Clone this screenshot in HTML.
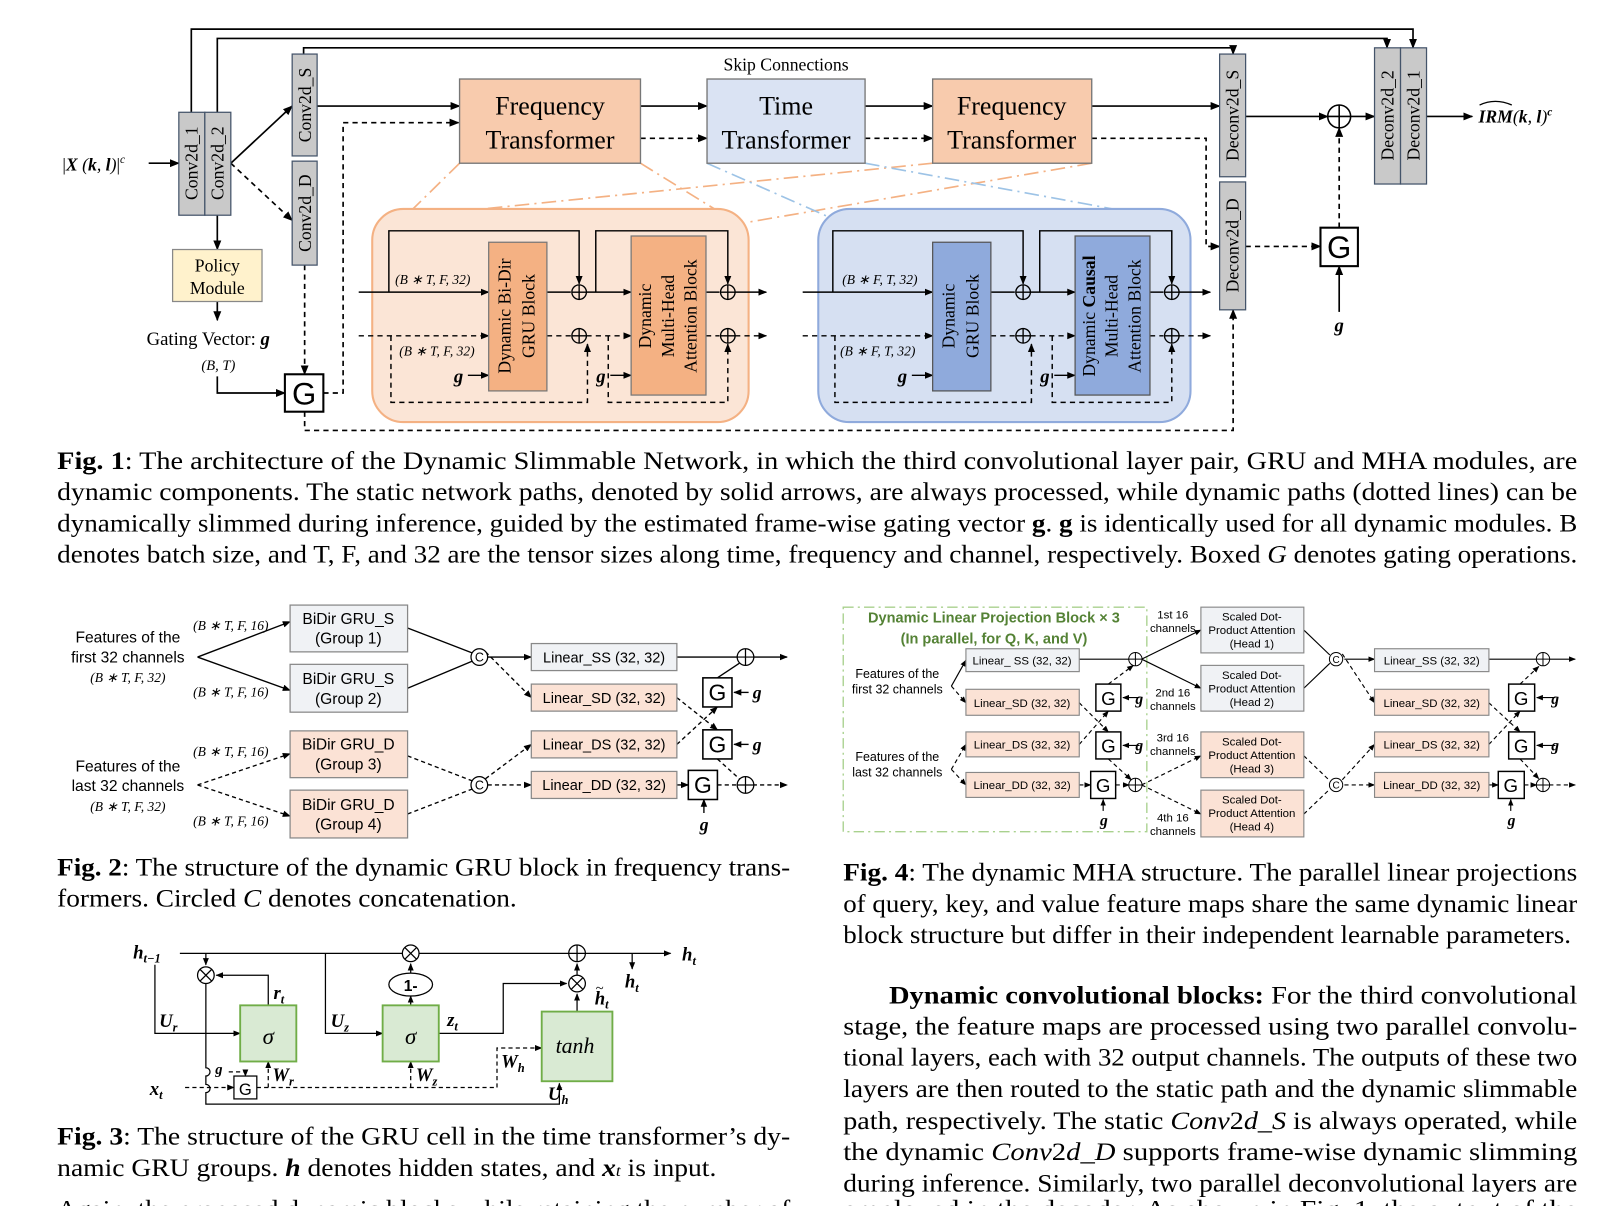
<!DOCTYPE html>
<html><head><meta charset="utf-8"><style>
html,body{margin:0;padding:0;background:#fff;}
svg{display:block;}
.s{font-family:"Liberation Serif",serif;}
.a{font-family:"Liberation Sans",sans-serif;}
</style></head><body>
<svg width="1622" height="1206" viewBox="0 0 1560 1160" preserveAspectRatio="none" xmlns="http://www.w3.org/2000/svg">
<defs>
<marker id="ar" viewBox="0 0 10 10" refX="9" refY="5" markerWidth="6" markerHeight="6" orient="auto-start-reverse"><path d="M0,1 L10,5 L0,9 z" fill="#000"/></marker>
<g id="pl"><circle r="7" fill="none" stroke="#000" stroke-width="1.3"/><path d="M-7,0H7M0,-7V7" stroke="#000" stroke-width="1.3"/></g>
<g id="pb"><circle r="11" fill="#fff" stroke="#000" stroke-width="1.5"/><path d="M-11,0H11M0,-11V11" stroke="#000" stroke-width="1.5"/></g>
<g id="cc"><circle r="8" fill="#fff" stroke="#000" stroke-width="1.2"/><text y="4.5" text-anchor="middle" font-family="Liberation Sans,sans-serif" font-size="12">C</text></g>
<g id="ml"><circle r="8" fill="#fff" stroke="#000" stroke-width="1.2"/><path d="M-5.6,-5.6L5.6,5.6M5.6,-5.6L-5.6,5.6" stroke="#000" stroke-width="1.2"/></g>
<g id="pm"><circle r="8" fill="#fff" stroke="#000" stroke-width="1.2"/><path d="M-8,0H8M0,-8V8" stroke="#000" stroke-width="1.2"/></g>
</defs>

<!-- ============ FIG 1 ============ -->
<g fill="none" stroke="#000" stroke-width="1.6">
<path d="M184,108V28H1359V46" marker-end="url(#ar)"/>
<path d="M209,108V37H1334V46" marker-end="url(#ar)"/>
<path d="M292,52V46H1186V52" marker-end="url(#ar)"/>
<path d="M143,157H172" marker-end="url(#ar)"/>
<path d="M222,157L281,102" marker-end="url(#ar)"/>
<path d="M222,157L281,212" stroke-dasharray="5,4" marker-end="url(#ar)"/>
<path d="M209,207V240" marker-end="url(#ar)"/>
<path d="M209,290V308" marker-end="url(#ar)"/>
<path d="M209,362V378H274" marker-end="url(#ar)"/>
<path d="M293,255V360" stroke-dasharray="5,4" marker-end="url(#ar)"/>
<path d="M311,378H330V118H441" stroke-dasharray="5,4" marker-end="url(#ar)"/>
<path d="M293,396V414H1186V298" stroke-dasharray="5,4" marker-end="url(#ar)"/>
<path d="M305,102H442" marker-end="url(#ar)"/>
<path d="M616,102H680" marker-end="url(#ar)"/>
<path d="M832,102H897" marker-end="url(#ar)"/>
<path d="M1050,102H1173" marker-end="url(#ar)"/>
<path d="M616,133H680" stroke-dasharray="5,4" marker-end="url(#ar)"/>
<path d="M832,133H897" stroke-dasharray="5,4" marker-end="url(#ar)"/>
<path d="M1050,133H1160V237H1173" stroke-dasharray="5,4" marker-end="url(#ar)"/>
<path d="M1198,112H1277" marker-end="url(#ar)"/>
<path d="M1299,112H1322" marker-end="url(#ar)"/>
<path d="M1372,112H1416" marker-end="url(#ar)"/>
<path d="M1198,237H1270" stroke-dasharray="5,4" marker-end="url(#ar)"/>
<path d="M1288,219V123" stroke-dasharray="5,4" marker-end="url(#ar)"/>
<path d="M1288,300V256" marker-end="url(#ar)"/>
</g>
<g fill="none" stroke-width="1.6" stroke-dasharray="14,5,2,5">
<path d="M442,157L390,208" stroke="#f4b183"/>
<path d="M616,157L705,212" stroke="#f4b183"/>
<path d="M897,157L395,208" stroke="#f4b183"/>
<path d="M1050,157L718,214" stroke="#f4b183"/>
<path d="M680,157L800,210" stroke="#9dc3e6"/>
<path d="M832,157L1130,212" stroke="#9dc3e6"/>
</g>
<g stroke="#44546a" stroke-width="1.2" fill="#c9c9c9">
<rect x="172" y="108" width="25" height="99"/><rect x="197" y="108" width="25" height="99"/>
<rect x="281" y="52" width="24" height="98"/><rect x="281" y="155" width="24" height="100"/>
<rect x="1173" y="52" width="25" height="118"/><rect x="1173" y="175" width="25" height="123"/>
<rect x="1322" y="46" width="25" height="131"/><rect x="1347" y="46" width="25" height="131"/>
</g>
<g class="s" font-size="17" text-anchor="middle">
<text transform="translate(190,157) rotate(-90)">Conv2d_1</text>
<text transform="translate(215,157) rotate(-90)">Conv2d_2</text>
<text transform="translate(299,101) rotate(-90)">Conv2d_S</text>
<text transform="translate(299,205) rotate(-90)">Conv2d_D</text>
<text transform="translate(1191,111) rotate(-90)">Deconv2d_S</text>
<text transform="translate(1191,236) rotate(-90)">Deconv2d_D</text>
<text transform="translate(1340,111) rotate(-90)">Deconv2d_2</text>
<text transform="translate(1365,111) rotate(-90)">Deconv2d_1</text>
</g>
<text x="60" y="164" class="s" font-size="17" font-style="italic"><tspan font-style="normal">|</tspan><tspan font-weight="bold">X</tspan> (<tspan font-weight="bold">k</tspan>, <tspan font-weight="bold">l</tspan>)<tspan font-style="normal">|</tspan><tspan font-size="11" dy="-7">c</tspan></text>
<rect x="166" y="240" width="86" height="50" fill="#fff2cc" stroke="#888" stroke-width="1.2"/>
<text x="209" y="261" class="s" font-size="17" text-anchor="middle">Policy</text>
<text x="209" y="283" class="s" font-size="17" text-anchor="middle">Module</text>
<text x="141" y="332" class="s" font-size="18">Gating Vector: <tspan font-weight="bold" font-style="italic">g</tspan></text>
<text x="210" y="356" class="s" font-size="14" font-style="italic" text-anchor="middle">(B, T)</text>
<rect x="274" y="360" width="37" height="36" fill="#fff" stroke="#000" stroke-width="2"/>
<text x="292.5" y="389" class="a" font-size="30" text-anchor="middle">G</text>
<rect x="1270" y="219" width="36" height="37" fill="#fff" stroke="#000" stroke-width="2"/>
<text x="1288" y="248" class="a" font-size="30" text-anchor="middle">G</text>
<text x="1288" y="319" class="s" font-size="18" font-weight="bold" font-style="italic" text-anchor="middle">g</text>
<use href="#pb" x="1288" y="112"/>
<text x="1422" y="118" class="s" font-size="17" font-style="italic" font-weight="bold">IRM<tspan font-weight="normal">(</tspan>k<tspan font-weight="normal">, </tspan>l<tspan font-weight="normal">)</tspan><tspan font-size="11" dy="-7">c</tspan></text>
<path d="M1423,101Q1438,94 1454,101" fill="none" stroke="#000" stroke-width="1.2"/>
<text x="756" y="68" class="s" font-size="17" text-anchor="middle">Skip Connections</text>
<rect x="442" y="76" width="174" height="81" fill="#f8cbad" stroke="#777" stroke-width="1.3"/>
<rect x="680" y="76" width="152" height="81" fill="#dae3f3" stroke="#777" stroke-width="1.3"/>
<rect x="897" y="76" width="153" height="81" fill="#f8cbad" stroke="#777" stroke-width="1.3"/>
<g class="s" font-size="25" text-anchor="middle">
<text x="529" y="110">Frequency</text><text x="529" y="143">Transformer</text>
<text x="756" y="110">Time</text><text x="756" y="143">Transformer</text>
<text x="973" y="110">Frequency</text><text x="973" y="143">Transformer</text>
</g>
<rect x="358" y="201" width="362" height="205" rx="30" fill="#fbe5d6" stroke="#f4b183" stroke-width="2"/>
<rect x="787" y="201" width="358" height="205" rx="30" fill="#d6e0f2" stroke="#8faadc" stroke-width="2"/>
<g id="blk">
<g fill="none" stroke="#000" stroke-width="1.4">
<path d="M345,281H470" marker-end="url(#ar)"/>
<path d="M374,281V222H557V273" marker-end="url(#ar)"/>
<path d="M526,281H549"/><path d="M564,281H607" marker-end="url(#ar)"/>
<path d="M573,281V222H700V273" marker-end="url(#ar)"/>
<path d="M679,281H692"/><path d="M707,281H737" marker-end="url(#ar)"/>
<g stroke-dasharray="5,4">
<path d="M345,323H470" marker-end="url(#ar)"/>
<path d="M376,323V387H565V331" marker-end="url(#ar)"/>
<path d="M526,323H549"/><path d="M564,323H607" marker-end="url(#ar)"/>
<path d="M585,323V387H700V331" marker-end="url(#ar)"/>
<path d="M679,323H692"/><path d="M707,323H737" marker-end="url(#ar)"/>
</g>
<path d="M450,361H470" marker-end="url(#ar)"/>
<path d="M587,361H607" marker-end="url(#ar)"/>
</g>
<use href="#pl" x="557" y="281"/><use href="#pl" x="700" y="281"/>
<use href="#pl" x="557" y="323"/><use href="#pl" x="700" y="323"/>
<text x="441" y="368" class="s" font-size="18" font-weight="bold" font-style="italic" text-anchor="middle">g</text>
<text x="578" y="368" class="s" font-size="18" font-weight="bold" font-style="italic" text-anchor="middle">g</text>
</g>
<g class="s" font-size="13" font-style="italic">
<text x="380" y="273">(B ∗ T, F, 32)</text><text x="384" y="342">(B ∗ T, F, 32)</text>
</g>
<rect x="470" y="233" width="56" height="143" fill="#f4b183" stroke="#777" stroke-width="1.2"/>
<rect x="607" y="227" width="72" height="153" fill="#f4b183" stroke="#777" stroke-width="1.2"/>
<g class="s" font-size="17" text-anchor="middle">
<text transform="translate(491,304) rotate(-90)">Dynamic Bi-Dir</text>
<text transform="translate(514,304) rotate(-90)">GRU Block</text>
<text transform="translate(626,304) rotate(-90)">Dynamic</text>
<text transform="translate(648,304) rotate(-90)">Multi-Head</text>
<text transform="translate(670,304) rotate(-90)">Attention Block</text>
</g>
<use href="#blk" transform="translate(427,0)"/>
<g class="s" font-size="13" font-style="italic">
<text x="810" y="273">(B ∗ F, T, 32)</text><text x="808" y="342">(B ∗ F, T, 32)</text>
</g>
<rect x="897" y="233" width="56" height="143" fill="#8faadc" stroke="#555" stroke-width="1.2"/>
<rect x="1034" y="227" width="72" height="153" fill="#8faadc" stroke="#555" stroke-width="1.2"/>
<g class="s" font-size="17" text-anchor="middle">
<text transform="translate(918,304) rotate(-90)">Dynamic</text>
<text transform="translate(941,304) rotate(-90)">GRU Block</text>
<text transform="translate(1053,304) rotate(-90)">Dynamic <tspan font-weight="bold">Causal</tspan></text>
<text transform="translate(1075,304) rotate(-90)">Multi-Head</text>
<text transform="translate(1097,304) rotate(-90)">Attention Block</text>
</g>

<g class="s" font-size="24">
<text x="55" y="451" textLength="1462" lengthAdjust="spacingAndGlyphs"><tspan font-weight="bold">Fig. 1</tspan>: The architecture of the Dynamic Slimmable Network, in which the third convolutional layer pair, GRU and MHA modules, are</text>
<text x="55" y="481" textLength="1462" lengthAdjust="spacingAndGlyphs">dynamic components. The static network paths, denoted by solid arrows, are always processed, while dynamic paths (dotted lines) can be</text>
<text x="55" y="511" textLength="1462" lengthAdjust="spacingAndGlyphs">dynamically slimmed during inference, guided by the estimated frame-wise gating vector <tspan font-weight="bold">g</tspan>. <tspan font-weight="bold">g</tspan> is identically used for all dynamic modules. B</text>
<text x="55" y="541" textLength="1462" lengthAdjust="spacingAndGlyphs">denotes batch size, and T, F, and 32 are the tensor sizes along time, frequency and channel, respectively. Boxed <tspan font-style="italic">G</tspan> denotes gating operations.</text>
</g>

<!-- ============ FIG 2 ============ -->
<g class="a" font-size="15" text-anchor="middle">
<text x="123" y="618">Features of the</text><text x="123" y="637">first 32 channels</text>
<text x="123" y="742">Features of the</text><text x="123" y="761">last 32 channels</text>
</g>
<g class="s" font-size="13" font-style="italic" text-anchor="middle">
<text x="123" y="656">(B ∗ T, F, 32)</text><text x="123" y="780">(B ∗ T, F, 32)</text>
<text x="222" y="606">(B ∗ T, F, 16)</text><text x="222" y="670">(B ∗ T, F, 16)</text>
<text x="222" y="727">(B ∗ T, F, 16)</text><text x="222" y="794">(B ∗ T, F, 16)</text>
</g>
<g fill="none" stroke="#000" stroke-width="1.3">
<path d="M190,632L279,598" marker-end="url(#ar)"/><path d="M190,632L279,664" marker-end="url(#ar)"/>
<path d="M392,604L454,628"/><path d="M392,662L454,636"/>
<path d="M469,632H511" marker-end="url(#ar)"/>
<path d="M651,632H710"/><path d="M724,632H757" marker-end="url(#ar)"/>
<path d="M690,652L711,638" />
<path d="M720,666H706" marker-end="url(#ar)"/>
<path d="M720,716H706" marker-end="url(#ar)"/>
<path d="M677,782V769" marker-end="url(#ar)"/>
<g stroke-dasharray="4,3">
<path d="M190,755L279,725" marker-end="url(#ar)"/><path d="M190,755L279,785" marker-end="url(#ar)"/>
<path d="M392,727L454,751"/><path d="M392,783L454,759"/>
<path d="M467,627L511,671" marker-end="url(#ar)"/>
<path d="M467,749L511,716" marker-end="url(#ar)"/>
<path d="M469,755H511" marker-end="url(#ar)"/>
<path d="M651,755H662" marker-end="url(#ar)"/>
<path d="M690,755H710"/><path d="M724,755H757" marker-end="url(#ar)"/>
<path d="M651,671L690,702" marker-end="url(#ar)"/>
<path d="M651,716L690,680" marker-end="url(#ar)"/>
<path d="M690,730L712,750"/>
</g>
</g>
<g stroke="#888" stroke-width="1.2">
<rect x="279" y="582" width="113" height="45" fill="#f0f2f5"/><rect x="279" y="639" width="113" height="46" fill="#f0f2f5"/>
<rect x="279" y="703" width="113" height="45" fill="#fbe2d5"/><rect x="279" y="760" width="113" height="46" fill="#fbe2d5"/>
<rect x="511" y="619" width="140" height="26" fill="#f0f2f5"/><rect x="511" y="658" width="140" height="26" fill="#fbe2d5"/>
<rect x="511" y="703" width="140" height="26" fill="#fbe2d5"/><rect x="511" y="742" width="140" height="26" fill="#fbe2d5"/>
</g>
<g class="a" font-size="15" text-anchor="middle">
<text x="335" y="600">BiDir GRU_S</text><text x="335" y="619">(Group 1)</text>
<text x="335" y="658">BiDir GRU_S</text><text x="335" y="677">(Group 2)</text>
<text x="335" y="721">BiDir GRU_D</text><text x="335" y="740">(Group 3)</text>
<text x="335" y="779">BiDir GRU_D</text><text x="335" y="798">(Group 4)</text>
</g>
<g class="a" font-size="14" text-anchor="middle">
<text x="581" y="637">Linear_SS (32, 32)</text><text x="581" y="676">Linear_SD (32, 32)</text>
<text x="581" y="721">Linear_DS (32, 32)</text><text x="581" y="760">Linear_DD (32, 32)</text>
</g>
<use href="#cc" x="461" y="632"/><use href="#cc" x="461" y="755"/>
<use href="#pm" x="717" y="632"/><use href="#pm" x="717" y="755"/>
<g fill="#fff" stroke="#000" stroke-width="1.5">
<rect x="676" y="652" width="28" height="28"/><rect x="676" y="702" width="28" height="28"/><rect x="662" y="741" width="28" height="28"/>
</g>
<g class="a" font-size="22" text-anchor="middle"><text x="690" y="674">G</text><text x="690" y="724">G</text><text x="676" y="763">G</text></g>
<g class="s" font-size="17" font-weight="bold" font-style="italic"><text x="724" y="672">g</text><text x="724" y="722">g</text><text x="673" y="799">g</text></g>
<g class="s" font-size="24">
<text x="55" y="842" textLength="705" lengthAdjust="spacingAndGlyphs"><tspan font-weight="bold">Fig. 2</tspan>: The structure of the dynamic GRU block in frequency trans-</text>
<text x="55" y="872" textLength="442" lengthAdjust="spacingAndGlyphs">formers. Circled <tspan font-style="italic">C</tspan> denotes concatenation.</text>
</g>

<!-- ============ FIG 3 ============ -->
<g fill="none" stroke="#000" stroke-width="1.2">
<path d="M173,917H645" marker-end="url(#ar)"/>
<path d="M608,917V932" marker-end="url(#ar)"/>
<path d="M198,917V928" marker-end="url(#ar)"/>
<path d="M258,967V938H208" marker-end="url(#ar)"/>
<path d="M198,946V1027a4,4 0 0 1 0,8V1043a4,4 0 0 1 0,8V1062H538V1042" marker-end="url(#ar)"/>
<path d="M149,928V994H231" marker-end="url(#ar)"/>
<path d="M313,917V994H368" marker-end="url(#ar)"/>
<path d="M395,967V958" marker-end="url(#ar)"/>
<path d="M395,937V927" marker-end="url(#ar)"/>
<path d="M422,994H484V946H545" marker-end="url(#ar)"/>
<path d="M555,938V927" marker-end="url(#ar)"/>
<path d="M555,973V956" marker-end="url(#ar)"/>
<g stroke-dasharray="4,3">
<path d="M178,1046H225" marker-end="url(#ar)"/>
<path d="M220,1031H236V1035" marker-end="url(#ar)"/>
<path d="M247,1046H478V1008H521" marker-end="url(#ar)"/>
<path d="M258,1046V1021" marker-end="url(#ar)"/>
<path d="M395,1046V1021" marker-end="url(#ar)"/>
</g>
</g>
<use href="#ml" x="198" y="938"/><use href="#ml" x="395" y="917"/><use href="#pm" x="555" y="917"/><use href="#ml" x="555" y="946"/>
<ellipse cx="395" cy="947" rx="21" ry="11" fill="#fff" stroke="#000" stroke-width="1.2"/>
<text x="395" y="953" class="a" font-size="15" font-weight="bold" text-anchor="middle">1-</text>
<g fill="#d9ead3" stroke="#70ad47" stroke-width="1.8">
<rect x="231" y="967" width="54" height="54"/><rect x="368" y="967" width="54" height="54"/><rect x="521" y="973" width="68" height="67"/>
</g>
<g class="s" font-style="italic" text-anchor="middle">
<text x="258" y="1004" font-size="22">σ</text><text x="395" y="1004" font-size="22">σ</text><text x="553" y="1013" font-size="21">tanh</text>
</g>
<rect x="225" y="1035" width="22" height="22" fill="#fff" stroke="#000" stroke-width="1.2"/>
<text x="236" y="1053" class="a" font-size="16" text-anchor="middle">G</text>
<g class="s" font-size="18" font-weight="bold" font-style="italic">
<text x="128" y="922">h<tspan font-size="12" dy="4">t−1</tspan></text>
<text x="656" y="924">h<tspan font-size="12" dy="4">t</tspan></text>
<text x="601" y="950">h<tspan font-size="12" dy="4">t</tspan></text>
<text x="572" y="966">h<tspan font-size="12" dy="4">t</tspan></text>
<text x="263" y="961">r<tspan font-size="12" dy="4">t</tspan></text>
<text x="153" y="988">U<tspan font-size="12" dy="4">r</tspan></text>
<text x="318" y="988">U<tspan font-size="12" dy="4">z</tspan></text>
<text x="430" y="987">z<tspan font-size="12" dy="4">t</tspan></text>
<text x="262" y="1040">W<tspan font-size="12" dy="4">r</tspan></text>
<text x="400" y="1040">W<tspan font-size="12" dy="4">z</tspan></text>
<text x="482" y="1027">W<tspan font-size="12" dy="4">h</tspan></text>
<text x="527" y="1058">U<tspan font-size="12" dy="4">h</tspan></text>
<text x="144" y="1053">x<tspan font-size="12" dy="4">t</tspan></text>
<text x="207" y="1033" font-size="14">g</text>
</g>
<text x="573" y="955" class="s" font-size="14">~</text>
<g class="s" font-size="24">
<text x="55" y="1101" textLength="705" lengthAdjust="spacingAndGlyphs"><tspan font-weight="bold">Fig. 3</tspan>: The structure of the GRU cell in the time transformer’s dy-</text>
<text x="55" y="1131" textLength="634" lengthAdjust="spacingAndGlyphs">namic GRU groups. <tspan font-weight="bold" font-style="italic">h</tspan> denotes hidden states, and <tspan font-weight="bold" font-style="italic">x</tspan><tspan font-style="italic" font-size="15">t</tspan> is input.</text>
<text x="55" y="1171" textLength="705" lengthAdjust="spacingAndGlyphs">Again, the proposed dynamic blocks while retaining the number of</text>
</g>

<!-- ============ FIG 4 ============ -->
<rect x="811" y="584" width="292" height="216" fill="none" stroke="#a9d18e" stroke-width="1.3" stroke-dasharray="10,4,2,4"/>
<g class="a" font-size="14" font-weight="bold" fill="#548235" text-anchor="middle">
<text x="956" y="599">Dynamic Linear Projection Block × 3</text>
<text x="956" y="619">(In parallel, for Q, K, and V)</text>
</g>
<g class="a" font-size="12" text-anchor="middle">
<text x="863" y="652">Features of the</text><text x="863" y="667">first 32 channels</text>
<text x="863" y="732">Features of the</text><text x="863" y="747">last 32 channels</text>
</g>
<g class="a" font-size="11" text-anchor="middle">
<text x="1128" y="595">1st 16</text><text x="1128" y="608">channels</text>
<text x="1128" y="670">2nd 16</text><text x="1128" y="683">channels</text>
<text x="1128" y="713">3rd 16</text><text x="1128" y="726">channels</text>
<text x="1128" y="790">4th 16</text><text x="1128" y="803">channels</text>
</g>
<g fill="none" stroke="#000" stroke-width="1.1">
<path d="M915,660L929,635" marker-end="url(#ar)"/>
<path d="M1038,634H1086"/><path d="M1098,634L1155,606" marker-end="url(#ar)"/><path d="M1098,634L1155,662" marker-end="url(#ar)"/>
<path d="M1254,606L1279,630"/><path d="M1254,662L1279,638"/>
<path d="M1293,634H1322" marker-end="url(#ar)"/>
<path d="M1432,634H1478"/><path d="M1490,634H1515" marker-end="url(#ar)"/>
<path d="M1096,671H1080" marker-end="url(#ar)"/><path d="M1096,717H1080" marker-end="url(#ar)"/>
<path d="M1061,780V769" marker-end="url(#ar)"/>
<path d="M1496,671H1478" marker-end="url(#ar)"/><path d="M1496,717H1478" marker-end="url(#ar)"/>
<path d="M1453,780V769" marker-end="url(#ar)"/>
<g stroke-dasharray="4,3">
<path d="M915,660L929,676" marker-end="url(#ar)"/>
<path d="M915,740L929,716" marker-end="url(#ar)"/><path d="M915,740L929,755" marker-end="url(#ar)"/>
<path d="M1038,676L1066,704" marker-end="url(#ar)"/>
<path d="M1038,716L1066,684" marker-end="url(#ar)"/>
<path d="M1066,658L1090,640" marker-end="url(#ar)"/>
<path d="M1066,730L1088,750" marker-end="url(#ar)"/>
<path d="M1038,755H1049" marker-end="url(#ar)"/><path d="M1073,755H1086" marker-end="url(#ar)"/>
<path d="M1098,755L1155,727" marker-end="url(#ar)"/><path d="M1098,755L1155,783" marker-end="url(#ar)"/>
<path d="M1254,727L1279,751"/><path d="M1254,783L1279,759"/>
<path d="M1291,629L1322,676" marker-end="url(#ar)"/><path d="M1291,750L1322,716" marker-end="url(#ar)"/>
<path d="M1293,755H1322" marker-end="url(#ar)"/>
<path d="M1432,676L1462,704" marker-end="url(#ar)"/><path d="M1432,716L1462,684" marker-end="url(#ar)"/>
<path d="M1462,658L1480,641" marker-end="url(#ar)"/><path d="M1462,730L1480,749" marker-end="url(#ar)"/>
<path d="M1432,755H1441" marker-end="url(#ar)"/><path d="M1466,755H1478" marker-end="url(#ar)"/>
<path d="M1490,755H1515" marker-end="url(#ar)"/>
</g>
</g>
<g stroke="#888" stroke-width="1.1">
<rect x="929" y="624" width="109" height="22" fill="#f0f2f5"/><rect x="929" y="663" width="109" height="25" fill="#fbe2d5"/>
<rect x="929" y="704" width="109" height="24" fill="#fbe2d5"/><rect x="929" y="743" width="109" height="24" fill="#fbe2d5"/>
<rect x="1322" y="624" width="110" height="22" fill="#f0f2f5"/><rect x="1322" y="663" width="110" height="25" fill="#fbe2d5"/>
<rect x="1322" y="704" width="110" height="24" fill="#fbe2d5"/><rect x="1322" y="743" width="110" height="24" fill="#fbe2d5"/>
<rect x="1155" y="584" width="99" height="44" fill="#f0f2f5"/><rect x="1155" y="640" width="99" height="44" fill="#f0f2f5"/>
<rect x="1155" y="704" width="99" height="44" fill="#fbe2d5"/><rect x="1155" y="760" width="99" height="45" fill="#fbe2d5"/>
</g>
<g class="a" font-size="11" text-anchor="middle">
<text x="983" y="639">Linear_ SS (32, 32)</text><text x="983" y="680">Linear_SD (32, 32)</text>
<text x="983" y="720">Linear_DS (32, 32)</text><text x="983" y="759">Linear_DD (32, 32)</text>
<text x="1377" y="639">Linear_SS (32, 32)</text><text x="1377" y="680">Linear_SD (32, 32)</text>
<text x="1377" y="720">Linear_DS (32, 32)</text><text x="1377" y="759">Linear_DD (32, 32)</text>
<text x="1204" y="597">Scaled Dot-</text><text x="1204" y="610">Product Attention</text><text x="1204" y="623">(Head 1)</text>
<text x="1204" y="653">Scaled Dot-</text><text x="1204" y="666">Product Attention</text><text x="1204" y="679">(Head 2)</text>
<text x="1204" y="717">Scaled Dot-</text><text x="1204" y="730">Product Attention</text><text x="1204" y="743">(Head 3)</text>
<text x="1204" y="773">Scaled Dot-</text><text x="1204" y="786">Product Attention</text><text x="1204" y="799">(Head 4)</text>
</g>
<g transform="translate(1092,634) scale(0.8)"><use href="#pm"/></g>
<g transform="translate(1092,755) scale(0.8)"><use href="#pm"/></g>
<g transform="translate(1484,634) scale(0.8)"><use href="#pm"/></g>
<g transform="translate(1484,755) scale(0.8)"><use href="#pm"/></g>
<g transform="translate(1285,634) scale(0.8)"><use href="#cc"/></g>
<g transform="translate(1285,755) scale(0.8)"><use href="#cc"/></g>
<g fill="#fff" stroke="#000" stroke-width="1.4">
<rect x="1054" y="658" width="24" height="26"/><rect x="1054" y="704" width="24" height="26"/><rect x="1049" y="742" width="24" height="26"/>
<rect x="1451" y="658" width="25" height="26"/><rect x="1451" y="704" width="25" height="26"/><rect x="1441" y="742" width="25" height="26"/>
</g>
<g class="a" font-size="18" text-anchor="middle">
<text x="1066" y="678">G</text><text x="1066" y="724">G</text><text x="1061" y="762">G</text>
<text x="1463" y="678">G</text><text x="1463" y="724">G</text><text x="1453" y="762">G</text>
</g>
<g class="s" font-size="15" font-weight="bold" font-style="italic">
<text x="1092" y="677">g</text><text x="1092" y="722">g</text><text x="1058" y="794">g</text>
<text x="1492" y="677">g</text><text x="1492" y="722">g</text><text x="1450" y="794">g</text>
</g>
<g class="s" font-size="24">
<text x="811" y="847" textLength="706" lengthAdjust="spacingAndGlyphs"><tspan font-weight="bold">Fig. 4</tspan>: The dynamic MHA structure. The parallel linear projections</text>
<text x="811" y="877" textLength="706" lengthAdjust="spacingAndGlyphs">of query, key, and value feature maps share the same dynamic linear</text>
<text x="811" y="907" textLength="700" lengthAdjust="spacingAndGlyphs">block structure but differ in their independent learnable parameters.</text>
<text x="855" y="965" textLength="662" lengthAdjust="spacingAndGlyphs"><tspan font-weight="bold">Dynamic convolutional blocks:</tspan> For the third convolutional</text>
<text x="811" y="995" textLength="706" lengthAdjust="spacingAndGlyphs">stage, the feature maps are processed using two parallel convolu-</text>
<text x="811" y="1025" textLength="706" lengthAdjust="spacingAndGlyphs">tional layers, each with 32 output channels. The outputs of these two</text>
<text x="811" y="1055" textLength="706" lengthAdjust="spacingAndGlyphs">layers are then routed to the static path and the dynamic slimmable</text>
<text x="811" y="1086" textLength="706" lengthAdjust="spacingAndGlyphs">path, respectively. The static <tspan font-style="italic">Conv</tspan>2<tspan font-style="italic">d_S</tspan> is always operated, while</text>
<text x="811" y="1116" textLength="706" lengthAdjust="spacingAndGlyphs">the dynamic <tspan font-style="italic">Conv</tspan>2<tspan font-style="italic">d_D</tspan> supports frame-wise dynamic slimming</text>
<text x="811" y="1146" textLength="706" lengthAdjust="spacingAndGlyphs">during inference. Similarly, two parallel deconvolutional layers are</text>
<text x="811" y="1171" textLength="706" lengthAdjust="spacingAndGlyphs">employed in the decoder. As shown in Fig. 1, the output of the</text>
</g>
</svg>
</body></html>
